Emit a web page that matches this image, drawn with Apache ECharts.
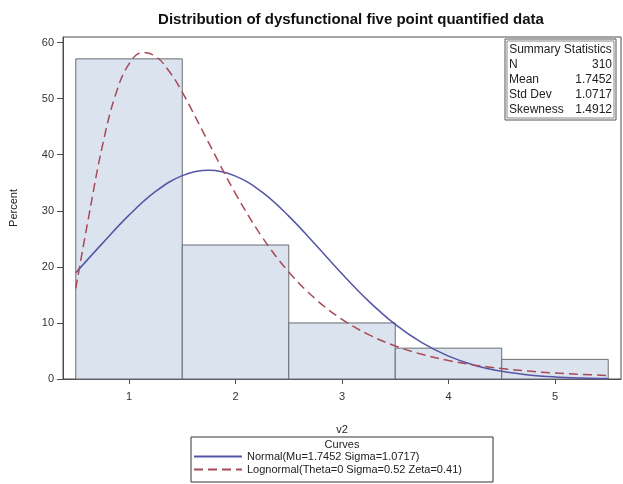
<!DOCTYPE html>
<html>
<head>
<meta charset="utf-8">
<script src="https://cdn.jsdelivr.net/npm/echarts@6/dist/echarts.min.js"></script>
<style>
  html, body { margin: 0; padding: 0; background: #ffffff; }
  #chart { width: 623px; height: 484px; }
</style>
</head>
<body>
<div id="chart"></div>
<script>
// Histogram bins (bin centre and percent of observations)
const binCenters = [1, 2, 3, 4, 5];
const binPercent = [57.1, 23.9, 10.0, 5.5, 3.5];
const binWidth = 1;

// Fitted normal curve, sampled along v2
const normalX = [0.5, 0.75, 1.0, 1.25, 1.5, 1.75, 2.0, 2.25, 2.5, 2.75, 3.0, 3.25, 3.5, 3.75, 4.0, 4.25, 4.5, 4.75, 5.0, 5.25, 5.5];
const normalY = [18.95, 24.19, 29.23, 33.45, 36.27, 37.22, 36.19, 33.32, 29.05, 23.99, 18.76, 13.89, 9.74, 6.47, 4.07, 2.42, 1.37, 0.73, 0.37, 0.18, 0.08];

// Fitted lognormal curve, sampled along v2
const lognormX = [0.5, 0.625, 0.75, 0.875, 1.0, 1.125, 1.25, 1.375, 1.5, 1.75, 2.0, 2.25, 2.5, 2.75, 3.0, 3.25, 3.5, 3.75, 4.0, 4.25, 4.5, 4.75, 5.0, 5.25, 5.5];
const lognormY = [16.17, 29.32, 41.59, 50.78, 56.22, 58.24, 57.54, 54.94, 51.15, 42.06, 33.07, 25.33, 19.10, 14.29, 10.64, 7.92, 5.89, 4.40, 3.29, 2.47, 1.86, 1.41, 1.07, 0.82, 0.63];

// Tick labels
const xTicks = [1, 2, 3, 4, 5];
const yTicks = [0, 10, 20, 30, 40, 50, 60];

// Inset statistics
const statLabels = ['N', 'Mean', 'Std Dev', 'Skewness'];
const statValues = ['310', '1.7452', '1.0717', '1.4912'];

const curveNames = ['Normal(Mu=1.7452 Sigma=1.0717)', 'Lognormal(Theta=0 Sigma=0.52 Zeta=0.41)'];

const FONT = '"Liberation Sans", Arial, sans-serif';
const AXIS = '#4d4d4d';
const BAR_FILL = '#dbe3ef';
const BAR_EDGE = '#6a6e75';
const NORMAL_COLOR = '#5555a6';
const LOGNORM_COLOR = '#a84a55';

const chart = echarts.init(document.getElementById('chart'), null, { renderer: 'canvas' });

const histData = binCenters.map((c, i) => [c, binPercent[i]]);
const normalData = normalX.map((x, i) => [x, normalY[i]]);
const lognormData = lognormX.map((x, i) => [x, lognormY[i]]);

// Inset box with summary statistics
const boxX = 505, boxY = 39, boxW = 111, rowH = 15;
const boxH = rowH * (statLabels.length + 1) + 6;
const statFont = '12px ' + FONT;
const statElements = [
  { type: 'rect', shape: { x: boxX, y: boxY, width: boxW, height: boxH },
    style: { fill: '#fff', stroke: '#555', lineWidth: 1 } },
  { type: 'rect', shape: { x: boxX + 2, y: boxY + 2, width: boxW - 4, height: boxH - 4 },
    style: { fill: 'none', stroke: '#888', lineWidth: 1 } },
  { type: 'text', x: boxX + boxW / 2, y: boxY + 3 + rowH / 2,
    style: { text: 'Summary Statistics', font: statFont, fill: '#222', align: 'center', verticalAlign: 'middle' } }
];
statLabels.forEach((lab, i) => {
  const cy = boxY + 3 + rowH * (i + 1) + rowH / 2;
  statElements.push({ type: 'text', x: boxX + 4, y: cy,
    style: { text: lab, font: statFont, fill: '#222', align: 'left', verticalAlign: 'middle' } });
  statElements.push({ type: 'text', x: boxX + boxW - 4, y: cy,
    style: { text: statValues[i], font: statFont, fill: '#222', align: 'right', verticalAlign: 'middle' } });
});

// Legend frame with its heading
const legX = 191, legY = 437, legW = 302, legH = 45;
const legendElements = [
  { type: 'rect', shape: { x: legX, y: legY, width: legW, height: legH },
    style: { fill: '#fff', stroke: '#333', lineWidth: 1 } },
  { type: 'text', x: legX + legW / 2, y: legY + 8,
    style: { text: 'Curves', font: '11px ' + FONT, fill: '#222', align: 'center', verticalAlign: 'middle' } }
];

// One legend row per fitted curve, stacked inside the frame
function legendRow(name, top) {
  return {
    left: legX + 2, top: top, padding: 0,
    itemWidth: 48, itemHeight: 10,
    itemStyle: { opacity: 0 },
    textStyle: { fontFamily: FONT, fontSize: 11, color: '#222', padding: [0, 0, 0, 0] },
    selectedMode: false,
    data: [name]
  };
}

chart.setOption({
  animation: false,
  backgroundColor: '#ffffff',
  textStyle: { fontFamily: FONT },
  title: {
    text: 'Distribution of dysfunctional five point quantified data',
    left: 346, top: 7, textAlign: 'center',
    textStyle: { fontFamily: FONT, fontSize: 15, fontWeight: 'bold', color: '#111' }
  },
  grid: {
    left: 60, right: 2, top: 37, bottom: 105,
    show: true, borderColor: AXIS, borderWidth: 1, backgroundColor: 'transparent'
  },
  legend: [legendRow(curveNames[0], legY + 14), legendRow(curveNames[1], legY + 27)],
  xAxis: {
    type: 'value', min: 0.38, max: 5.62,
    name: 'v2', nameLocation: 'middle', nameGap: 45,
    nameTextStyle: { fontFamily: FONT, fontSize: 11, color: '#222' },
    axisLine: { show: true, lineStyle: { color: AXIS } },
    axisTick: { show: true, length: 5, customValues: xTicks, lineStyle: { color: AXIS } },
    axisLabel: { customValues: xTicks, margin: 12, fontFamily: FONT, fontSize: 11, color: '#333' },
    splitLine: { show: false }
  },
  yAxis: {
    type: 'value', min: 0, max: 61,
    name: 'Percent', nameLocation: 'middle', nameGap: 44,
    nameTextStyle: { fontFamily: FONT, fontSize: 11, color: '#222' },
    axisLine: { show: true, lineStyle: { color: AXIS } },
    axisTick: { show: true, length: 6, customValues: yTicks, lineStyle: { color: AXIS } },
    axisLabel: { customValues: yTicks, margin: 9, fontFamily: FONT, fontSize: 11, color: '#333' },
    splitLine: { show: false }
  },
  graphic: statElements.concat(legendElements),
  series: [
    {
      type: 'custom',
      name: 'Histogram',
      data: histData,
      z: 1,
      renderItem: function (params, api) {
        const c = api.value(0), v = api.value(1);
        const p0 = api.coord([c - binWidth / 2, v]);
        const p1 = api.coord([c + binWidth / 2, 0]);
        return {
          type: 'rect',
          shape: { x: p0[0], y: p0[1], width: p1[0] - p0[0], height: p1[1] - p0[1] },
          style: { fill: BAR_FILL, stroke: BAR_EDGE, lineWidth: 1 }
        };
      }
    },
    {
      type: 'line',
      name: curveNames[0],
      data: normalData,
      smooth: 0.4,
      symbol: 'none',
      z: 3,
      lineStyle: { color: NORMAL_COLOR, width: 1.5, type: 'solid' },
      itemStyle: { color: NORMAL_COLOR }
    },
    {
      type: 'line',
      name: curveNames[1],
      data: lognormData,
      smooth: 0.4,
      symbol: 'none',
      z: 3,
      lineStyle: { color: LOGNORM_COLOR, width: 1.5, type: [9, 5] },
      itemStyle: { color: LOGNORM_COLOR }
    }
  ]
});
</script>
</body>
</html>
